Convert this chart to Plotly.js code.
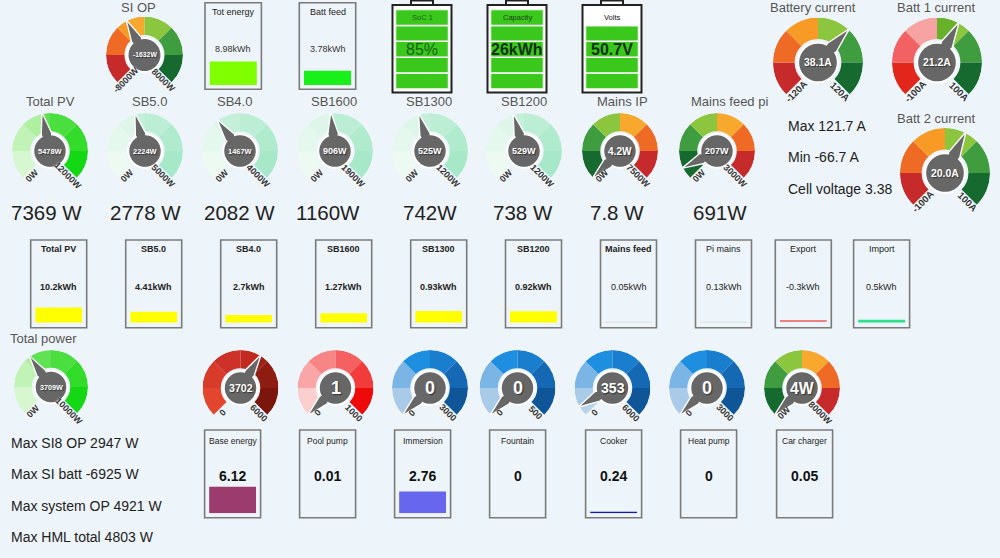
<!DOCTYPE html>
<html><head><meta charset="utf-8">
<script src="https://cdn.plot.ly/plotly-3.0.1.min.js"></script>
<style>html,body{margin:0;padding:0;background:#eef5fa;}#chart{width:1000px;height:558px;}</style>
</head><body><div id="chart"></div>
<script>
// ================= DATA =================
const gaugeTitles = ['SI OP','Battery current','Batt 1 current','Batt 2 current','Total PV','SB5.0','SB4.0','SB1600','SB1300','SB1200','Mains IP','Mains feed pi','Total power','','','','','','',''];
const gaugeValues = [-1632, 38.1, 21.2, 20.0, 5478, 2224, 1467, 906, 525, 529, 4.2, 207, 3709, 3702, 1, 0, 0, 353, 0, 4];
const gaugeMin = [-8000, -120, -100, -100, 0, 0, 0, 0, 0, 0, 0, 0, 0, 0, 0, 0, 0, 0, 0, 0];
const gaugeMax = [8000, 120, 100, 100, 12000, 5000, 4000, 1900, 1200, 1200, 7500, 3000, 10000, 6000, 1000, 3000, 500, 6000, 3000, 8000];
const gaugeUnit = ['W','A','A','A','W','W','W','W','W','W','W','W','W','','','','','','','W'];
const gaugeDecimals = [0,1,1,1,0,0,0,0,0,0,1,0,0,0,0,0,0,0,0,0];
const gaugePalette = ['rg','rg','b1','rg','pv','sb','sb','sb','sb','sb','gr','gr','pv','red','pink','blue','blue','blue','blue','gr'];

const pvNowText = ['7369 W','2778 W','2082 W','1160W','742W','738 W','7.8 W','691W'];

const battNames = ['SoC 1','Capacity','Volts'];
const battText = ['85%','26kWh','50.7V'];
const battCells = [5, 5, 4];

const topBoxNames = ['Tot energy','Batt feed'];
const topBoxValues = [8.98, 3.78];

const rowBoxNames = ['Total PV','SB5.0','SB4.0','SB1600','SB1300','SB1200','Mains feed','Pi mains','Export','Import'];
const rowBoxValues = [10.2, 4.41, 2.7, 1.27, 0.93, 0.92, 0.05, 0.13, -0.3, 0.5];

const loadNames = ['Base energy','Pool pump','Immersion','Fountain','Cooker','Heat pump','Car charger'];
const loadValues = [6.12, 0.01, 2.76, 0, 0.24, 0, 0.05];

const statsLeft = ['Max SI8 OP 2947 W','Max SI batt -6925 W','Max system OP 4921 W','Max HML total 4803 W'];
const statsRight = ['Max 121.7 A','Min -66.7 A','Cell voltage 3.38'];

// ================= STYLE / LAYOUT =================
const FONT = 'Liberation Sans, Arial, sans-serif';
const BG = '#eef5fa';
const W = 1000, H = 558;
const px = x => x / W, py = y => 1 - y / H;

const PAL = {
  rg:  {fill:['#c62a2a','#ef6a25','#f79a26','#8cc63f','#3f9c3f','#16692f'], rest:['#c62a2a','#ef6a25','#f8a82c','#8cc63f','#3f9c3f','#16692f']},
  b1:  {fill:['#e3261b','#f26262','#f7a3a3','#68b22b','#3f9c3f','#16692f'], rest:['#c62a2a','#ef6a25','#f8a82c','#8cc63f','#3f9c3f','#16692f']},
  gr:  {fill:['#16692f','#3f9c3f','#8cc63f','#f8a82c','#ef6a25','#c62a2a'], rest:['#16692f','#3f9c3f','#8cc63f','#f8a82c','#ef6a25','#c62a2a']},
  pv:  {fill:['#d6f7cf','#c2f3b6','#aeefa0','#9beb8b','#88e776','#75e361'], rest:['#8fec80','#76e76a','#5fe253','#4ade3e','#33db2b','#14d814']},
  sb:  {fill:['#ecfaf2','#e5f8ee','#def6ea','#d7f4e5','#d0f2e1','#c9f0dc'], rest:['#d6f4e5','#ccf2df','#c4f0da','#bbeed4','#b1ebce','#a6e8c7']},
  red: {fill:['#e2462f','#d93b2b','#cd3127','#c22a21','#b3261c','#a01f15'], rest:['#b8301f','#ab2a1b','#a2281c','#9a2418','#8f1c11','#7c150c']},
  pink:{fill:['#fccfcf','#faa6a6','#f88585','#f56060','#f23c3c','#ef0a0a'], rest:['#fccfcf','#faa6a6','#f88585','#f56060','#f23c3c','#ef0a0a']},
  blue:{fill:['#b9d3ea','#7ab5e5','#1e8fe0','#1a7ecf','#1569b4','#0e5698'], rest:['#a9cbe8','#7ab5e5','#1e8fe0','#1a7ecf','#1569b4','#0e5698']}
};

// gauge centre x, centre y, outer radius (px)
const gaugeGeom = [
  [144.5,55,38.5],[818,62.5,45],[937,62.5,45],[945,173,45],
  [50,151,38],[145,151,38],[240,151,38],[335,151,38],[430,151,38],[524,151,38],[620,151,38],[717,151,38],
  [51,387,37],
  [240.5,388,38],[335.5,388,38],[430,388,38],[517.5,388,38],[612.5,388,38],[707,388,38],[802,388,38]
];
const titlePos = [[138,7.5],[813,7.5],[936,7.5],[936,118],[50,101],[149,101],[234,101],[334,101],[429,101],[524,101],[622,101],[729,101],[43,338]];
const pvNowX = [46,145,239,328,430,523,617,720];

const traces = [], annotations = [], shapes = [];
const layout = {
  width: W, height: H, margin:{l:0,r:0,t:0,b:0,pad:0},
  paper_bgcolor: BG, plot_bgcolor:'rgba(0,0,0,0)', showlegend:false, barmode:'overlay',
  annotations, shapes
};
const font = (size, color, weight, extra) => Object.assign({family:FONT, size, color, weight: weight||'normal'}, extra||{});
function ann(x, y, text, f, opts) {
  annotations.push(Object.assign({x:px(x), y:py(y), xref:'paper', yref:'paper', text, showarrow:false, font:f, xanchor:'center', yanchor:'middle'}, opts||{}));
}
function fmt(v, d) { return v.toFixed(d); }
function emW(s) {
  let w = 0;
  for (const c of s) w += /[0-9]/.test(c) ? 0.556 : c === 'W' ? 0.944 : c === 'A' ? 0.722 : c === '.' ? 0.278 : c === '-' ? 0.333 : 0.6;
  return w;
}

// ---------- gauges ----------
const INNER = 0.52, DISK = 0.44;
gaugeValues.forEach((v, i) => {
  const [cx, cy, R] = gaugeGeom[i];
  const pid = i === 0 ? 'polar' : 'polar' + (i + 1);
  layout[pid] = {
    domain:{x:[px(cx - R), px(cx + R)], y:[py(cy + R), py(cy - R)]},
    bgcolor:'rgba(0,0,0,0)',
    radialaxis:{visible:false, range:[0,1]},
    angularaxis:{visible:false, rotation:225, direction:'clockwise', showgrid:false}
  };
  const lo = gaugeMin[i], hi = gaugeMax[i];
  const frac = Math.max(0, Math.min(1, (v - lo) / (hi - lo)));
  const a = frac * 270;
  const pal = PAL[gaugePalette[i]];
  const th = [], wd = [], cols = [];
  const seg = (s, e, c) => { if (e - s > 0.01) { th.push((s + e) / 2); wd.push(e - s); cols.push(c); } };
  for (let k = 0; k < 6; k++) {
    const s = k * 45, e = s + 45;
    if (a <= s) seg(s, e, pal.rest[k]);
    else if (a >= e) seg(s, e, pal.fill[k]);
    else { seg(s, a, pal.fill[k]); seg(a, e, pal.rest[k]); }
  }
  traces.push({type:'barpolar', subplot:pid, theta:th, width:wd, r:th.map(() => 1 - INNER), base:INNER,
    marker:{color:cols, line:{width:0}}, hoverinfo:'skip'});
  const nT = [a, a - 17, a, a + 17, a], nR = [1, 0.46, 0, 0.46, 1];
  traces.push({type:'scatterpolar', subplot:pid, mode:'lines', r:nR, theta:nT, fill:'toself', fillcolor:'#676767',
    line:{color:'#ffffff', width:2}, hoverinfo:'skip', cliponaxis:false});
  const cT = [], cR = [];
  for (let t = 0; t <= 360; t += 6) { cT.push(t); cR.push(DISK); }
  traces.push({type:'scatterpolar', subplot:pid, mode:'lines', r:cR, theta:cT, fill:'toself', fillcolor:'#676767',
    line:{color:'#ffffff', width:2}, hoverinfo:'skip', cliponaxis:false});
  traces.push({type:'scatterpolar', subplot:pid, mode:'lines', r:[0.96,0.47,0,0.47,0.96], theta:[a, a - 15, a, a + 15, a], fill:'toself', fillcolor:'#676767',
    line:{color:'#676767', width:0}, hoverinfo:'skip', cliponaxis:false});

  const vt = fmt(v, gaugeDecimals[i]) + gaugeUnit[i];
  const vs = Math.min(18, 0.62 * R / emW(vt));
  ann(cx, cy, vt, font(vs, '#ffffff', 'bold', {shadow:'1px 1px 1px #333'}));

  // min / max labels
  const rl = 0.8 * R, off = 4.5, ls = R > 40 ? 9.5 : 9;
  const t1 = 225 * Math.PI / 180, t2 = -45 * Math.PI / 180;
  const mx = cx + rl * Math.cos(t1) + off * 0.707, my = cy - rl * Math.sin(t1) + off * 0.707;
  const Mx = cx + rl * Math.cos(t2) - off * 0.707, My = cy - rl * Math.sin(t2) + off * 0.707;
  const lf = font(ls, '#333333', 'bold', {shadow:'0px 0px 2px #ffffff'});
  ann(mx, my, fmt(lo, 0) + gaugeUnit[i], lf, {textangle:-45});
  ann(Mx, My, fmt(hi, 0) + gaugeUnit[i], lf, {textangle:45});

  if (gaugeTitles[i]) ann(titlePos[i][0], titlePos[i][1], gaugeTitles[i], font(13, '#555555'));
});

pvNowText.forEach((t, k) => ann(pvNowX[k], 212, t, font(20.5, '#222222')));

// ---------- cartesian helpers ----------
let axN = 0;
function newAxes(x0, x1, yTop, yBot, xr, yr) {
  axN++;
  const s = axN === 1 ? '' : String(axN);
  layout['xaxis' + s] = {domain:[px(x0), px(x1)], range:xr, visible:false, fixedrange:true, anchor:'y' + s};
  layout['yaxis' + s] = {domain:[py(yBot), py(yTop)], range:yr, visible:false, fixedrange:true, anchor:'x' + s};
  return ['x' + s, 'y' + s];
}
function energyBox(o) {
  shapes.push({type:'rect', xref:'paper', yref:'paper', x0:px(o.left), x1:px(o.left + o.w), y0:py(o.top + o.h), y1:py(o.top),
    line:{color:'#7b7b7b', width:1.6}, fillcolor:'rgba(0,0,0,0)'});
  ann(o.left + o.w / 2, o.nameY, o.name, o.nameFont);
  ann(o.left + o.w / 2, o.valY, o.valText, o.valFont);
  const [xa, ya] = newAxes(o.left + (o.inset || 4.5), o.left + o.w - (o.inset || 4.5), o.barBottom - 30, o.barBottom, [0, 1], o.range);
  traces.push({type:'bar', x:[0.5], y:[o.value], width:[1], xaxis:xa, yaxis:ya, marker:{color:o.color, line:{width:0}}, hoverinfo:'skip'});
}

// ---------- batteries ----------
const battLeft = [392.5, 487.5, 582.5];
const battGreen = '#3ac81c';
const battNameColor = ['#215f14','#1e3d14','#111111'];
const battValFont = [font(16, '#1d5e12'), font(16, '#14300f', 'bold'), font(16, '#14300f', 'bold')];
battNames.forEach((nm, i) => {
  const left = battLeft[i], top = 5, w = 59, h = 87.5;
  shapes.push({type:'rect', xref:'paper', yref:'paper', layer:'below', x0:px(left), x1:px(left + w), y0:py(top + h), y1:py(top),
    line:{color:'#222222', width:2}, fillcolor:'#ffffff'});
  shapes.push({type:'rect', xref:'paper', yref:'paper', x0:px(left + w / 2 - 11), x1:px(left + w / 2 + 11), y0:py(top), y1:py(0.5),
    line:{color:'#222222', width:2}, fillcolor:'#ffffff'});
  const [xa, ya] = newAxes(left + 3, left + w - 3, top + 4.5, top + h - 3.5, [0, 1], [0, 5]);
  const base = [0, 1, 2, 3, 4];
  traces.push({type:'bar', x:base.map(() => 0.5), y:base.map(() => 1), base, width:base.map(() => 1), xaxis:xa, yaxis:ya,
    marker:{color:base.map(b => b < battCells[i] ? battGreen : '#ffffff'), line:{color:'#ffffff', width:1.5}}, hoverinfo:'skip'});
  ann(left + w / 2, 18, nm, font(7.5, battNameColor[i]));
  ann(left + w / 2, 50, battText[i], battValFont[i]);
});

// ---------- energy boxes ----------
const topBoxLeft = [205, 299.3];
const topBoxColors = ['#7fff00', '#19ef19'];
const topBoxRange = [[0, 11.5], [0, 8]];
topBoxNames.forEach((nm, i) => energyBox({
  left:topBoxLeft[i], top:2.7, w:56.4, h:86.6, name:nm, nameFont:font(9, '#222222'), nameY:12,
  valText:topBoxValues[i] + 'kWh', valFont:font(9, '#333333'), valY:49,
  value:topBoxValues[i], range:topBoxRange[i], color:topBoxColors[i], barBottom:85
}));

const rowBoxLeft = [30.7, 125.7, 220.7, 315.7, 410.7, 505.5, 600.5, 695.5, 775.3, 853.6];
const rowBoxColors = ['#ffff00','#ffff00','#ffff00','#ffff00','#ffff00','#ffff00','#d8d8d8','#d8d8d8','#f08080','#2fe08c'];
const rowBoxRange = [[0,20],[0,12],[0,10.5],[0,4],[0,2.4],[0,2.4],[0,1.5],[0,4],[-0.4,4.2],[0,5]];
rowBoxNames.forEach((nm, i) => energyBox({
  left:rowBoxLeft[i], top:240, w:56, h:87.7, name:nm, nameFont:font(9, '#222222', i < 7 ? 'bold' : 'normal'), nameY:249.5,
  valText:rowBoxValues[i] + 'kWh', valFont:font(9, '#222222', i < 6 ? 'bold' : 'normal'), valY:286.7,
  value:rowBoxValues[i], range:rowBoxRange[i], color:rowBoxColors[i], barBottom:322.7
}));

const loadLeft = [204.6, 299.6, 394.6, 489.6, 585.6, 680.6, 776.6];
const loadColors = ['#9c3b6d','#e07070','#6666ee','#3aa0e0','#1616b8','#55aa55','#88cc44'];
const loadRange = [[0,6.9],[0,10],[0,3.8],[0,10],[0,4.8],[0,10],[0,10]];
loadNames.forEach((nm, i) => energyBox({
  left:loadLeft[i], top:430, w:56, h:87.7, name:nm, nameFont:font(8.5, '#222222'), nameY:440.7,
  valText:String(loadValues[i]), valFont:font(14, '#111111', 'bold'), valY:475.7,
  value:loadValues[i], range:loadRange[i], color:loadColors[i], barBottom:513.3, inset:4.5
}));

// ---------- stats text ----------
const statsLeftY = [443, 473.5, 506, 537];
statsLeft.forEach((t, k) => ann(9, statsLeftY[k], t, font(14, '#222222'), {xanchor:'left'}));
const statsRightY = [126, 156.5, 188.5];
statsRight.forEach((t, k) => ann(786, statsRightY[k], t, font(14, '#222222'), {xanchor:'left'}));

Plotly.newPlot('chart', traces, layout, {staticPlot:true, displayModeBar:false});
</script></body></html>
